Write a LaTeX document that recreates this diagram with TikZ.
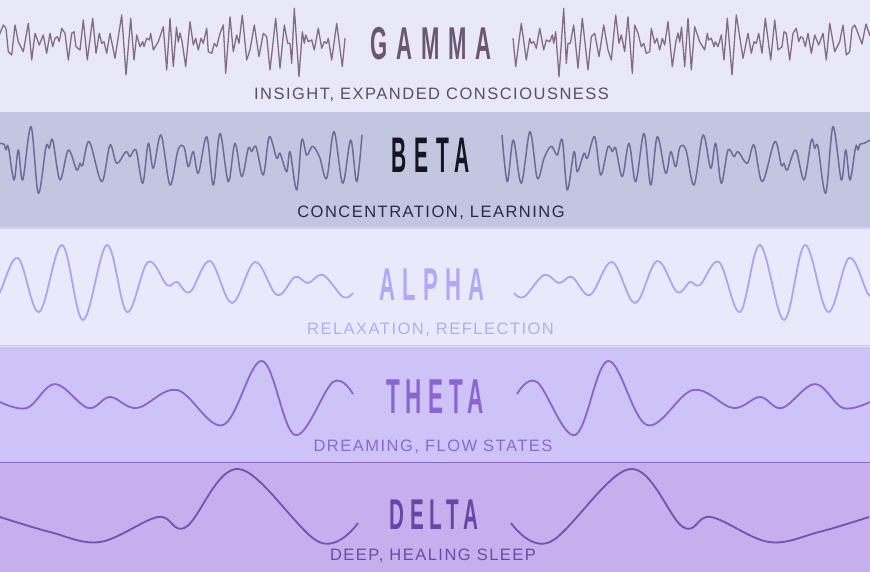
\documentclass[tikz,border=0pt]{standalone}
\usepackage{fontspec}
\setmainfont{Liberation Sans}
\definecolor{gammabg}{HTML}{E9E8F8}
\definecolor{betabg}{HTML}{C3C6E1}
\definecolor{alphabg}{HTML}{EAE9FC}
\definecolor{thetabg}{HTML}{CEC3F7}
\definecolor{deltabg}{HTML}{C6AFEC}
\definecolor{gammawave}{HTML}{846C86}
\definecolor{betawave}{HTML}{6A6C9A}
\definecolor{alphawave}{HTML}{AAA5F3}
\definecolor{thetawave}{HTML}{8A63CD}
\definecolor{deltawave}{HTML}{7650B6}
\definecolor{gammatitle}{HTML}{6B5870}
\definecolor{gammasub}{HTML}{5C4E66}
\definecolor{betatitle}{HTML}{15141F}
\definecolor{betasub}{HTML}{2A2B42}
\definecolor{alphatitle}{HTML}{B1A9F7}
\definecolor{alphasub}{HTML}{B3ABF4}
\definecolor{thetatitle}{HTML}{8C65D2}
\definecolor{thetasub}{HTML}{8C68D2}
\definecolor{deltatitle}{HTML}{6A45A8}
\definecolor{deltasub}{HTML}{6C49AC}
\tikzset{
  ttl/.style={anchor=base, inner sep=0pt},
  sub/.style={anchor=base, inner sep=0pt, font=\fontsize{16.5}{16.5}\selectfont\addfontfeature{LetterSpace=9}},
  gline/.style={draw=gammawave, line width=1.3pt, line join=round},
  bline/.style={draw=betawave, line width=1.5pt, line join=round},
  aline/.style={draw=alphawave, line width=1.8pt, line join=round},
  tline/.style={draw=thetawave, line width=1.8pt, line join=round},
  dline/.style={draw=deltawave, line width=1.8pt, line join=round},
}
\newcommand\drawgammawave{\draw[gline] plot coordinates {(-12,36) (-8,24) (-4,44) (0,33.3) (3.3,25) (6,28.3) (8.3,51.7) (11.7,55) (15,25) (18.3,41.7) (23.3,51.7) (28.3,23.3) (31.7,60) (35,33.3) (39.3,45) (43.3,35) (46.7,53.3) (50,33.3) (52.7,46.7) (55,38.3) (57.3,36.7) (59.3,41.7) (61.7,28.3) (65,33.3) (68.3,60) (71.7,33.3) (74,31.7) (76,46.7) (80,50) (83.3,20) (87.3,60) (92.7,18.3) (96,53.3) (99.3,33.3) (101.7,43.3) (104,41.7) (106.7,53.3) (110,33.3) (115,58.3) (121.7,15) (126,75) (130.7,18.3) (134,60) (136.7,35) (140,46.7) (142.7,41.7) (144,46.7) (146.7,38.3) (149.3,40) (150.7,33.3) (153.3,50) (158.3,41.7) (163.3,26.7) (166.7,70) (170,18.3) (173.3,66.7) (176.5,27) (178.3,42) (180,33) (182,41) (185.7,66.7) (190,21.7) (193.3,45) (195.7,38.3) (198.3,50) (201,38.3) (203.3,43.3) (206.7,28.3) (208.3,51.7) (211.7,53.3) (214.3,43.3) (216.7,46.7) (220,33.3) (223.3,25) (225.7,73.3) (230,16.7) (233.3,51.7) (236.7,35) (239,43.3) (242.3,15) (246.7,60) (250,50) (254.3,25) (259,56.7) (263.3,33.3) (266.7,36.7) (270,70) (275.7,18.3) (280,68.3) (284.3,25) (287.7,43.3) (290,43.3) (291.7,63.3) (294.3,8.3) (299,76.7) (302.3,31.7) (304.3,43.3) (305.7,35) (308.3,41.7) (311.7,40) (314.3,50) (318.3,28.3) (321.7,48.3) (324.3,41.7) (326.7,43.3) (328.3,38.3) (331.7,60) (336.7,23.3) (342.3,66.7) (345,38.3)};}
\newcommand\drawbetawave{\draw[bline] plot[smooth, tension=0.55] coordinates {(-6,140) (0,143.3) (4,144.3) (6,150) (8.3,146.7) (14,180) (18.3,150) (22.7,180) (31,126.7) (38.3,193.3) (46,146.7) (49.3,148.3) (52.7,140) (60,180) (68.3,150) (76.7,170) (80,163.3) (82.7,165) (89.3,141.7) (101.7,181.7) (110,145) (116.7,163.3) (126,151.7) (130,156.7) (136,150) (142.7,183.3) (148.3,143.3) (153.3,168.3) (161,135) (170,185) (178,150) (184,147) (188.3,166.7) (193.3,151.7) (198.3,173.3) (206.7,136.7) (213.3,185) (220,133.3) (228.3,181.7) (235,143.3) (241.7,176.7) (248.3,148.3) (251.7,151.7) (256,146.7) (263.3,175) (269.3,136.7) (276.7,158.3) (280,153.3) (286.7,171.7) (290,151.7) (296.7,190) (301.7,140) (306.7,155) (311.7,146.7) (315,148.3) (320,158.3) (326.7,178.3) (334,131.7) (342.7,183.3) (350.7,140) (356.7,181.7) (362,135)};}
\newcommand\drawalphawave{\draw[aline] plot[smooth, tension=0.6] coordinates {(-6,298) (0,292) (18,258) (39,312) (62,245) (83,320) (107,245) (127,312) (148,262) (167,285) (177,282) (190,292) (210,261) (232,303) (255,262) (277,295) (295,277) (308,283) (323,275) (343,297) (353,293)};}
\newcommand\drawthetawave{\draw[tline] plot[smooth, tension=0.6] coordinates {(0,402) (27,408) (55,384) (88,408) (110,397) (137,408) (177,390) (223,425) (262,361) (295,435) (333,382) (353,394)};}
\newcommand\drawdeltawave{\draw[dline] plot[smooth, tension=0.6] coordinates {(0,517) (50,532) (100,542) (158,517) (186,527) (239,469) (319,542) (358,523)};}
\begin{document}
\begin{tikzpicture}[x=1pt,y=-1pt]
\useasboundingbox (0,0) rectangle (870,572);
% bands
\fill[gammabg] (0,0) rectangle (870,112);
\fill[betabg] (0,112) rectangle (870,228);
\fill[alphabg] (0,228) rectangle (870,345);
\fill[thetabg] (0,345) rectangle (870,462);
\fill[deltabg] (0,462) rectangle (870,572);
\draw[line width=1.5pt, draw=betabg!70!alphabg] (0,228) -- (870,228);
\draw[line width=1pt, draw=thetabg!60!white] (0,346) -- (870,346);
\draw[line width=1pt, draw=deltabg!85!black!10!thetawave] (0,462) -- (870,462);
% waves
\begin{scope}
  \clip (0,0) rectangle (870,112);
  \drawgammawave
  \begin{scope}[shift={(858,0)}, xscale=-1]\drawgammawave\end{scope}
\end{scope}
\begin{scope}
  \clip (0,112) rectangle (870,228);
  \drawbetawave
  \begin{scope}[shift={(864,0)}, xscale=-1]\drawbetawave\end{scope}
\end{scope}
\begin{scope}
  \clip (0,228) rectangle (870,345);
  \drawalphawave
  \begin{scope}[shift={(867,0)}, xscale=-1]\drawalphawave\end{scope}
\end{scope}
\drawthetawave
\begin{scope}[shift={(870,0)}, xscale=-1]\drawthetawave\end{scope}
\drawdeltawave
\begin{scope}[shift={(869,0)}, xscale=-1]\drawdeltawave\end{scope}
% titles
\node[ttl, xscale=0.48, text=gammatitle, font=\bfseries\fontsize{46}{46}\selectfont\addfontfeature{LetterSpace=40}] (gammaT) at (431,60) {GAMMA};
\node[ttl, xscale=0.42, text=betatitle, font=\bfseries\fontsize{50}{50}\selectfont\addfontfeature{LetterSpace=36}] (betaT) at (431,173) {BETA};
\node[ttl, xscale=0.48, text=alphatitle, font=\bfseries\fontsize{46}{46}\selectfont\addfontfeature{LetterSpace=33}] (alphaT) at (432,300) {ALPHA};
\node[ttl, xscale=0.46, text=thetatitle, font=\bfseries\fontsize{49}{49}\selectfont\addfontfeature{LetterSpace=27}] (thetaT) at (435,413) {THETA};
\node[ttl, xscale=0.48, text=deltatitle, font=\bfseries\fontsize{43}{43}\selectfont\addfontfeature{LetterSpace=28}] (deltaT) at (434,529) {DELTA};
% subtitles
\node[sub, text=gammasub] (gammaS) at (431.5,100) {INSIGHT, EXPANDED CONSCIOUSNESS};
\node[sub, text=betasub] (betaS) at (431,218) {CONCENTRATION, LEARNING};
\node[sub, text=alphasub] (alphaS) at (430.5,334) {RELAXATION, REFLECTION};
\node[sub, text=thetasub] (thetaS) at (433,451) {DREAMING, FLOW STATES};
\node[sub, text=deltasub] (deltaS) at (433,560) {DEEP, HEALING SLEEP};
\end{tikzpicture}
\end{document}
